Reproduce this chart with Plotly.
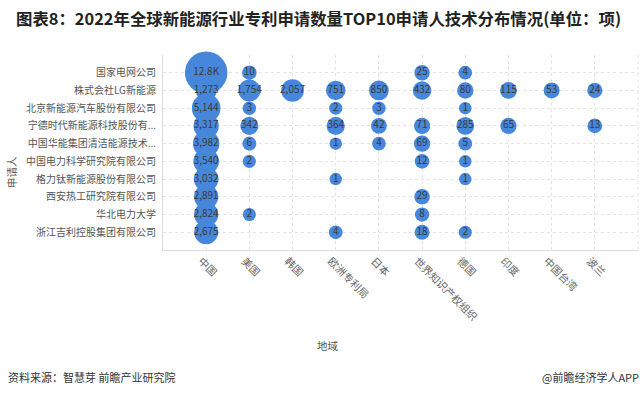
import math
import plotly.graph_objects as go

# ---------------- data ----------------
regions = ["中国", "美国", "韩国", "欧洲专利局", "日本", "世界知识产权组织", "德国", "印度", "中国台湾", "波兰"]
applicants = ["国家电网公司", "株式会社LG新能源", "北京新能源汽车股份有限公司", "宁德时代新能源科技股份有...",
              "中国华能集团清洁能源技术...", "中国电力科学研究院有限公司", "格力钛新能源股份有限公司",
              "西安热工研究院有限公司", "华北电力大学", "浙江吉利控股集团有限公司"]

sgcc      = [12800, 10, None, None, None, 25, 4, None, None, None]
lg        = [1273, 1754, 2057, 751, 850, 432, 80, 115, 53, 24]
baic      = [5144, 3, None, 2, 3, None, 1, None, None, None]
catl      = [3317, 342, None, 364, 42, 71, 285, 65, None, 13]
huaneng   = [3982, 6, None, 1, 4, 69, 5, None, None, None]
epri      = [3540, 2, None, None, None, 12, 1, None, None, None]
gree_ti   = [3032, None, None, 1, None, None, 1, None, None, None]
tpri      = [2891, None, None, None, None, 29, None, None, None, None]
ncepu     = [2824, 2, None, None, None, 8, None, None, None, None]
geely     = [2675, None, None, 4, None, 18, 2, None, None, None]

rows = [sgcc, lg, baic, catl, huaneng, epri, gree_ti, tpri, ncepu, geely]

# ---------------- build points ----------------
xs, ys, labels, sizes = [], [], [], []
for ri, row in enumerate(rows):
    for ci, v in enumerate(row):
        if v is None:
            continue
        xs.append(ci)
        ys.append(ri)
        labels.append(f"{v/1000:.1f}K" if v >= 10000 else f"{v:,}")
        sizes.append(12.5 + 2.0 * math.log10(v) + 0.0017 * v)

FONT = "Noto Sans CJK SC"
BLUE = "#4787db"

fig = go.Figure()
fig.add_trace(go.Scatter(
    x=xs, y=ys, mode="markers+text",
    text=labels, textposition="middle center",
    textfont=dict(family=FONT, size=10, color="#3a3a3a"),
    marker=dict(size=sizes, sizemode="diameter", color=BLUE, opacity=1, line=dict(width=0)),
    hoverinfo="text", cliponaxis=False, showlegend=False,
))

L, R, T, B = 163, 6, 55, 147
W, H = 644, 397
pw = W - L - R
ph = H - T - B

def px(xp):
    return (xp - L) / pw

def py(yp):
    return (H - B - yp) / ph

grid = "#e3e3e3"
ann_common = dict(xref="paper", yref="paper", showarrow=False, yanchor="middle")
fig.update_layout(
    width=W, height=H,
    margin=dict(l=L, r=R, t=T, b=B),
    paper_bgcolor="white", plot_bgcolor="white",
    font=dict(family=FONT, color="#555"),
    xaxis=dict(range=[-1, 10], tickmode="array", tickvals=list(range(len(regions))),
               ticktext=regions, tickangle=45, showgrid=True, gridcolor=grid, griddash="dot",
               zeroline=False, showline=True, linecolor="#dcdcdc", ticks="",
               ticklabelshift=-5,
               tickfont=dict(family=FONT, size=10.5, color="#666")),
    yaxis=dict(range=[10, -1], tickmode="array", tickvals=list(range(len(applicants))),
               ticktext=applicants, showgrid=True, gridcolor=grid, griddash="dot",
               zeroline=False, showline=True, linecolor="#dcdcdc", ticks="",
               ticklabelstandoff=4,
               tickfont=dict(family=FONT, size=10, color="#555")),
    title=dict(text="<b>图表8：2022年全球新能源行业专利申请数量TOP10申请人技术分布情况(单位：项)</b>",
               x=16 / W, xanchor="left", y=1 - 19 / H, yanchor="middle",
               font=dict(family=FONT, size=16.4, color="#222")),
    annotations=[
        dict(text="申请人", x=px(11), y=py(172), xanchor="center", textangle=-90,
             font=dict(family=FONT, size=10.5, color="#555"), **ann_common),
        dict(text="地域", x=px(328), y=py(345), xanchor="center",
             font=dict(family=FONT, size=10.5, color="#555"), **ann_common),
        dict(text="资料来源：智慧芽 前瞻产业研究院", x=px(6), y=py(377), xanchor="left",
             font=dict(family=FONT, size=11, color="#333"), **ann_common),
        dict(text="@前瞻经济学人APP", x=px(641), y=py(377), xanchor="right",
             font=dict(family=FONT, size=11, color="#333"), **ann_common),
    ],
    shapes=[
        dict(type="line", xref="paper", yref="paper", x0=1, x1=1, y0=0, y1=1,
             line=dict(color=grid, width=1, dash="dot")),
    ],
)

fig.write_html("out.html", config={"displayModeBar": False},
               post_script="document.body.style.margin='0';")
